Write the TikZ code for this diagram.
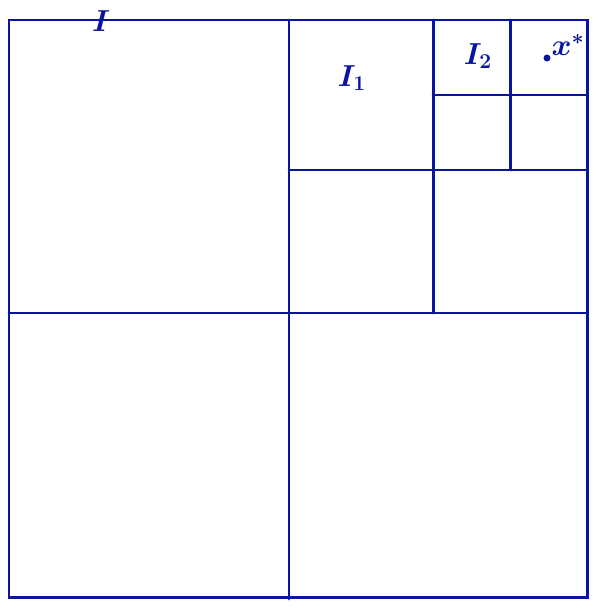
\documentclass[tikz,border=0pt]{standalone}
\usetikzlibrary{positioning}
\definecolor{penblue}{RGB}{10,20,160}
\tikzset{
	gridline/.style = {draw=penblue, line width=1.7pt, line cap=round}
}

\begin{document}
\begin{tikzpicture}[
x = 0.02cm, y = -0.02cm,
every node/.style = {
	text = penblue,
	font = \fontsize{18}{20}\selectfont\boldmath,
	inner sep = 0pt,
}
]
\useasboundingbox (0,0) rectangle (598,611);

\draw[gridline] (9,20) rectangle (587,597);
\draw[gridline] (289,20) -- (289,599);
\draw[gridline] (9,313) -- (587,313);
\draw[gridline] (433,20) -- (433,313);
\draw[gridline] (289,170) -- (587,170);
\draw[gridline] (510,20) -- (510,170);
\draw[gridline] (433,95) -- (587,95);

\node (lblI) at (101,21) {$I$};
\node (lblIone) at (352,78) {$I_1$};
\node (lblItwo) at (478,56) {$I_2$};
\fill[penblue] (547,58) circle (3.5);
\node (lblxstar) at (568,45) {$x^*$};

\end{tikzpicture}
\end{document}
